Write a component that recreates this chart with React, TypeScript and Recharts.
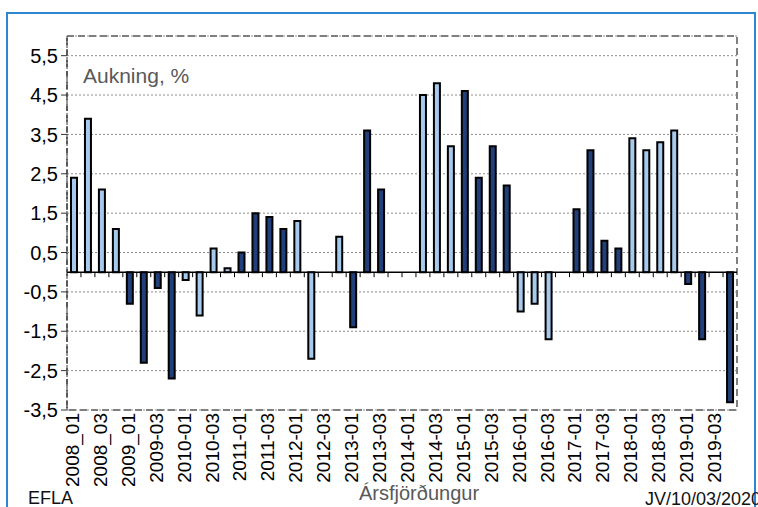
import React from "react"
import {
  Bar,
  BarChart,
  CartesianGrid,
  Cell,
  ReferenceArea,
  ReferenceLine,
  XAxis,
  YAxis,
} from "recharts"

// quarters 2008 Q1 .. 2019 Q4 (labels as written in the source chart)
const quarters = [
  "2008_01", "2008_02", "2008_03", "2008_04",
  "2009_01", "2009_02", "2009-03", "2009-04",
  "2010-01", "2010-02", "2010-03", "2010-04",
  "2011-01", "2011-02", "2011-03", "2011-04",
  "2012-01", "2012-02", "2012-03", "2012-04",
  "2013-01", "2013-02", "2013-03", "2013-04",
  "2014-01", "2014-02", "2014-03", "2014-04",
  "2015-01", "2015-02", "2015-03", "2015-04",
  "2016-01", "2016-02", "2016-03", "2016-04",
  "2017-01", "2017-02", "2017-03", "2017-04",
  "2018-01", "2018-02", "2018-03", "2018-04",
  "2019-01", "2019-02", "2019-03", "2019-04",
]

// aukning, % (null = no bar)
const growth: (number | null)[] = [
  2.4, 3.9, 2.1, 1.1,
  -0.8, -2.3, -0.4, -2.7,
  -0.2, -1.1, 0.6, 0.1,
  0.5, 1.5, 1.4, 1.1,
  1.3, -2.2, null, 0.9,
  -1.4, 3.6, 2.1, null,
  null, 4.5, 4.8, 3.2,
  4.6, 2.4, 3.2, 2.2,
  -1.0, -0.8, -1.7, null,
  1.6, 3.1, 0.8, 0.6,
  3.4, 3.1, 3.3, 3.6,
  -0.3, -1.7, null, -3.3,
]

const yTicks = [-3.5, -2.5, -1.5, -0.5, 0.5, 1.5, 2.5, 3.5, 4.5, 5.5]

const data = quarters.map((q, i) => ({ q, v: growth[i] }))

const LIGHT = "#A7C9EC"
const DARK = "#213F79"
const FONT = '"Liberation Sans", Arial, sans-serif'

function QuarterTick(props: any) {
  const { x, y, payload, index } = props
  if (index % 2 !== 0) return <g />
  return (
    <text
      x={x}
      y={y}
      dy={5}
      transform={`rotate(-90 ${x} ${y})`}
      textAnchor="end"
      fontSize={19}
      fontFamily={FONT}
      fill="#000"
    >
      {payload.value}
    </text>
  )
}

// zero line with small tick marks between the quarters
function ZeroLine(props: any) {
  const { x1, x2, y1 } = props
  const step = (x2 - x1) / quarters.length
  return (
    <g>
      {quarters.slice(1).map((_, i) => (
        <line
          key={i}
          x1={x1 + step * (i + 1)}
          x2={x1 + step * (i + 1)}
          y1={y1}
          y2={y1 + 5}
          stroke="#000"
          strokeWidth={1}
        />
      ))}
      <line x1={x1} x2={x2} y1={y1} y2={y1} stroke="#000" strokeWidth={1.5} />
    </g>
  )
}

export default function App() {
  return (
    <div
      style={{
        position: "fixed",
        left: 0,
        top: 0,
        width: 758,
        height: 507,
        overflow: "hidden",
        background: "#fff",
      }}
    >
      <div
        style={{
          position: "absolute",
          left: 6,
          top: 12,
          width: 750,
          height: 600,
          border: "2px solid #2E86D1",
          boxSizing: "border-box",
        }}
      />
      <div style={{ position: "absolute", left: 0, top: 0 }}>
        <BarChart
          width={758}
          height={507}
          data={data}
          margin={{ top: 36, right: 21, bottom: 0, left: 0 }}
        >
          <CartesianGrid vertical={false} stroke="#8c8c8c" strokeDasharray="2 2" />
          <ReferenceArea
            y1={-3.5}
            y2={6}
            fill="none"
            fillOpacity={0}
            stroke="#808080"
            strokeWidth={2}
            strokeDasharray="7 4"
            ifOverflow="visible"
          />
          <XAxis
            dataKey="q"
            interval={0}
            tick={<QuarterTick />}
            tickLine={false}
            axisLine={false}
            tickSize={0}
            tickMargin={3}
            height={97}
          />
          <YAxis
            type="number"
            domain={[-3.5, 6]}
            ticks={yTicks}
            interval={0}
            allowDataOverflow
            width={67}
            tickSize={6}
            tickMargin={3}
            tickFormatter={(v: number) => v.toFixed(1).replace(".", ",")}
            tick={{ fontSize: 20, fill: "#000", fontFamily: FONT }}
            axisLine={{ stroke: "#333", strokeDasharray: "5 2" }}
            tickLine={{ stroke: "#333" }}
          />
          <Bar
            dataKey="v"
            barSize={6}
            stroke="#000"
            strokeWidth={2}
            isAnimationActive={false}
          >
            {data.map((d, i) => (
              <Cell key={d.q} fill={Math.floor(i / 4) % 2 === 0 ? LIGHT : DARK} />
            ))}
          </Bar>
          <ReferenceLine y={0} shape={ZeroLine} />
        </BarChart>
      </div>
      <svg
        width={758}
        height={507}
        style={{ position: "absolute", left: 0, top: 0, pointerEvents: "none" }}
        fontFamily={FONT}
      >
        <text x={83} y={83} fontSize={21} fill="#595959">
          Aukning, %
        </text>
        <text x={28} y={504} fontSize={18} fill="#111">
          EFLA
        </text>
        <text x={359} y={500} fontSize={20} fill="#595959">
          Ársfjörðungur
        </text>
        <text x={645} y={505} fontSize={18} fill="#111">
          JV/10/03/2020
        </text>
      </svg>
    </div>
  )
}
